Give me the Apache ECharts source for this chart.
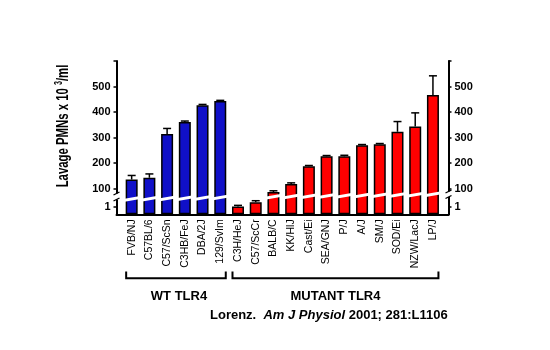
<!DOCTYPE html>
<html><head><meta charset="utf-8">
<script src="https://cdn.jsdelivr.net/npm/echarts@6/dist/echarts.min.js"></script>
<style>html,body{margin:0;padding:0;background:#fff}#c{width:550px;height:350px}</style>
</head><body><div id="c"></div>
<script>
// ---- data ----
const wtStrains = ['FVB/NJ', 'C57BL/6', 'C57/ScSn', 'C3HB/FeJ', 'DBA/2J', '129/SvIm'];
const wtMeans = [136, 143, 314, 361, 427, 443];
const wtErr = [16, 15, 22, 4, 3, 3];
const mutStrains = ['C3H/HeJ', 'C57/ScCr', 'BALB/C', 'KK/HlJ', 'Cast/Ei', 'SEA/GNJ', 'P/J', 'A/J', 'SM/J', 'SOD/Ei', 'NZW/LacJ', 'LP/J'];
const mutMeans = [1.1, 1.7, 87, 119, 188, 227, 227, 270, 274, 323, 344, 467];
const mutErr = [0.15, 0.2, 5, 4, 3, 3, 4, 3, 3, 40, 53, 75];
const upperTicks = [100, 200, 300, 400, 500];
const lowerTicks = [1];
const groupNames = ['WT TLR4', 'MUTANT TLR4'];
const citation = ['Lorenz.  ', 'Am J Physiol', ' 2001; 281:L1106'];

// ---- derived ----
const strains = wtStrains.concat(mutStrains);
const means = wtMeans.concat(mutMeans);
const errs = wtErr.concat(mutErr);
const nWT = wtStrains.length;
const N = strains.length;
const SMALL = 10; // values below this are drawn on the lower (0-2) segment
const BREAK_L = 60, BREAK_R = 78; // where the white break stripe crosses the bars (upper axis units)

const FONT = 'Arial, "Liberation Sans", sans-serif';
const BLUE = '#1010C8', RED = '#FF0000';

const pick = (cond) => means.map((v, i) => cond(v, i) ? v : '-');
const upperWT = pick((v, i) => i < nWT && v >= SMALL);
const upperMut = pick((v, i) => i >= nWT && v >= SMALL);
const lowerWT = pick((v, i) => i < nWT && v < SMALL);
const lowerMut = pick((v, i) => i >= nWT && v < SMALL);
const upperErr = [], lowerErr = [], stripes = [];
means.forEach((v, i) => {
  if (v >= SMALL) {
    upperErr.push([i, v, errs[i]]);
    stripes.push([i, BREAK_L + (BREAK_R - BREAK_L) * i / (N - 1)]);
  } else lowerErr.push([i, v, errs[i]]);
});

const G_LEFT = 122.8, G_RIGHT = 108.2, G_TOP = 61, G_BOTTOM = 135.7;

function renderErr(params, api) {
  const x = api.value(0), m = api.value(1), e = api.value(2);
  const p0 = api.coord([x, m]), p1 = api.coord([x, m + e]);
  const hw = 4;
  return { type: 'group', children: [
    { type: 'line', shape: { x1: p0[0], y1: p0[1], x2: p1[0], y2: p1[1] }, style: { stroke: '#000', lineWidth: 1.5 } },
    { type: 'line', shape: { x1: p1[0] - hw, y1: p1[1], x2: p1[0] + hw, y2: p1[1] }, style: { stroke: '#000', lineWidth: 1.5 } }
  ] };
}
function renderStripe(params, api) {
  const c = api.coord([api.value(0), api.value(1)]);
  const w = 17;
  const x0 = c[0] - w / 2, x1 = c[0] + w / 2;
  const rise = 3, t = 3;
  return { type: 'polygon', shape: { points: [
    [x0, c[1] + rise / 2 + t / 2], [x1, c[1] - rise / 2 + t / 2],
    [x1, c[1] - rise / 2 - t / 2], [x0, c[1] + rise / 2 - t / 2]] },
    style: { fill: '#fff' } };
}

const axisLineStyle = { show: true, lineStyle: { color: '#000', width: 2 } };
const yLabel = { color: '#000', fontWeight: 'bold', fontSize: 11, fontFamily: FONT, margin: 6 };

const chart = echarts.init(document.getElementById('c'), null, { renderer: 'canvas' });
chart.setOption({
  animation: false,
  backgroundColor: '#fff',
  grid: [
    { left: G_LEFT, right: G_RIGHT, top: G_TOP, bottom: G_BOTTOM },
    { left: G_LEFT, right: G_RIGHT, top: 200, bottom: G_BOTTOM },
    { left: 116.5, right: 101.5, top: G_TOP, bottom: G_BOTTOM }
  ],
  xAxis: [
    { gridIndex: 0, type: 'category', data: strains, axisLine: { show: false }, axisTick: { show: false },
      axisLabel: { rotate: 90, interval: 0, fontSize: 10.5, color: '#000', margin: 5, fontFamily: FONT } },
    { gridIndex: 1, type: 'category', data: strains, show: false },
    { gridIndex: 2, type: 'value', min: 0, max: 1, axisLine: axisLineStyle, axisTick: { show: false },
      axisLabel: { show: false }, splitLine: { show: false } }
  ],
  yAxis: [
    { gridIndex: 0, position: 'left', offset: 6.3, type: 'value', min: 0, max: 600, interval: 100,
      axisLine: axisLineStyle, axisTick: { show: true, length: 3, lineStyle: { width: 1.5 }, customValues: upperTicks.concat([600]) },
      axisLabel: Object.assign({ customValues: upperTicks }, yLabel), splitLine: { show: false } },
    { gridIndex: 0, position: 'right', offset: 6.7, type: 'value', min: 0, max: 600, interval: 100,
      axisLine: axisLineStyle, axisTick: { show: true, length: 3, lineStyle: { width: 1.5 }, customValues: upperTicks.concat([600]) },
      axisLabel: Object.assign({ customValues: upperTicks }, yLabel), splitLine: { show: false } },
    { gridIndex: 1, position: 'left', offset: 6.3, type: 'value', min: 0, max: 2, interval: 1,
      axisLine: axisLineStyle, axisTick: { show: true, length: 3, lineStyle: { width: 1.5 }, customValues: lowerTicks },
      axisLabel: Object.assign({ customValues: lowerTicks }, yLabel), splitLine: { show: false } },
    { gridIndex: 1, position: 'right', offset: 6.7, type: 'value', min: 0, max: 2, interval: 1,
      axisLine: axisLineStyle, axisTick: { show: true, length: 3, lineStyle: { width: 1.5 }, customValues: lowerTicks },
      axisLabel: Object.assign({ customValues: lowerTicks }, yLabel), splitLine: { show: false } },
    { gridIndex: 2, type: 'value', show: false }
  ],
  series: [
    { type: 'bar', xAxisIndex: 0, yAxisIndex: 0, data: upperWT, barWidth: 12, barGap: '-100%',
      itemStyle: { color: BLUE, borderColor: '#000', borderWidth: 1.5 } },
    { type: 'bar', xAxisIndex: 0, yAxisIndex: 0, data: upperMut, barWidth: 12, barGap: '-100%',
      itemStyle: { color: RED, borderColor: '#000', borderWidth: 1.5 } },
    { type: 'bar', xAxisIndex: 1, yAxisIndex: 2, data: lowerWT, barWidth: 12, barGap: '-100%',
      itemStyle: { color: BLUE, borderColor: '#000', borderWidth: 1.5 } },
    { type: 'bar', xAxisIndex: 1, yAxisIndex: 2, data: lowerMut, barWidth: 12, barGap: '-100%',
      itemStyle: { color: RED, borderColor: '#000', borderWidth: 1.5 } },
    { type: 'custom', xAxisIndex: 0, yAxisIndex: 0, data: upperErr, renderItem: renderErr, z: 3, encode: { x: 0, y: 1 } },
    { type: 'custom', xAxisIndex: 1, yAxisIndex: 2, data: lowerErr, renderItem: renderErr, z: 3, encode: { x: 0, y: 1 } },
    { type: 'custom', xAxisIndex: 0, yAxisIndex: 0, data: stripes, renderItem: renderStripe, z: 5, clip: false, encode: { x: 0, y: 1 } }
  ]
});

// ---- annotations positioned from the category axis ----
const px = (i) => chart.convertToPixel({ xAxisIndex: 0 }, i);
const bracketY = 278.3, bracketTop = 271.5;
const groups = [[0, nWT - 1], [nWT, N - 1]];
const graphics = [];
groups.forEach((g, k) => {
  const a = px(g[0]) - 5.5, b = px(g[1]) + 5.5;
  graphics.push({ type: 'polyline', shape: { points: [[a, bracketTop], [a, bracketY], [b, bracketY], [b, bracketTop]] },
    style: { stroke: '#000', lineWidth: 2, fill: null } });
  graphics.push({ type: 'text', x: (a + b) / 2 + (k === 0 ? 3 : 0), y: 296,
    style: { text: groupNames[k], font: 'bold 13px ' + FONT, fill: '#000', align: 'center', verticalAlign: 'middle' } });
});
// axis breaks
function axisBreak(x, yTop, yBot) {
  graphics.push({ type: 'rect', shape: { x: x - 3, y: yTop, width: 6, height: yBot - yTop }, style: { fill: '#fff' }, z: 20 });
  graphics.push({ type: 'line', shape: { x1: x - 3, y1: yTop + 1.5, x2: x + 3, y2: yTop - 1.5 }, style: { stroke: '#000', lineWidth: 1.3 }, z: 21 });
  graphics.push({ type: 'line', shape: { x1: x - 3, y1: yBot + 1.5, x2: x + 3, y2: yBot - 1.5 }, style: { stroke: '#000', lineWidth: 1.3 }, z: 21 });
}
axisBreak(116.5, 193.5, 199.5);
axisBreak(448.5, 191.5, 197);
// y title
graphics.push({ type: 'text', x: 63, y: 126, rotation: Math.PI / 2, scaleX: 0.71, scaleY: 1,
  style: { text: '{n|Lavage PMNs x 10 }{s|3}{n|/ml}', align: 'center', verticalAlign: 'middle',
    rich: { n: { font: 'bold 16px ' + FONT, fill: '#000', lineHeight: 18, verticalAlign: 'bottom' },
            s: { font: 'bold 10px ' + FONT, fill: '#000', lineHeight: 18, verticalAlign: 'top' } } } });
// citation
graphics.push({ type: 'text', x: 210, y: 315,
  style: { text: '{n|' + citation[0] + '}{i|' + citation[1] + '}{n|' + citation[2] + '}', align: 'left', verticalAlign: 'middle',
    rich: { n: { font: 'bold 13px ' + FONT, fill: '#000' }, i: { font: 'italic bold 13px ' + FONT, fill: '#000' } } } });
chart.setOption({ graphic: graphics });
</script>
</body></html>
